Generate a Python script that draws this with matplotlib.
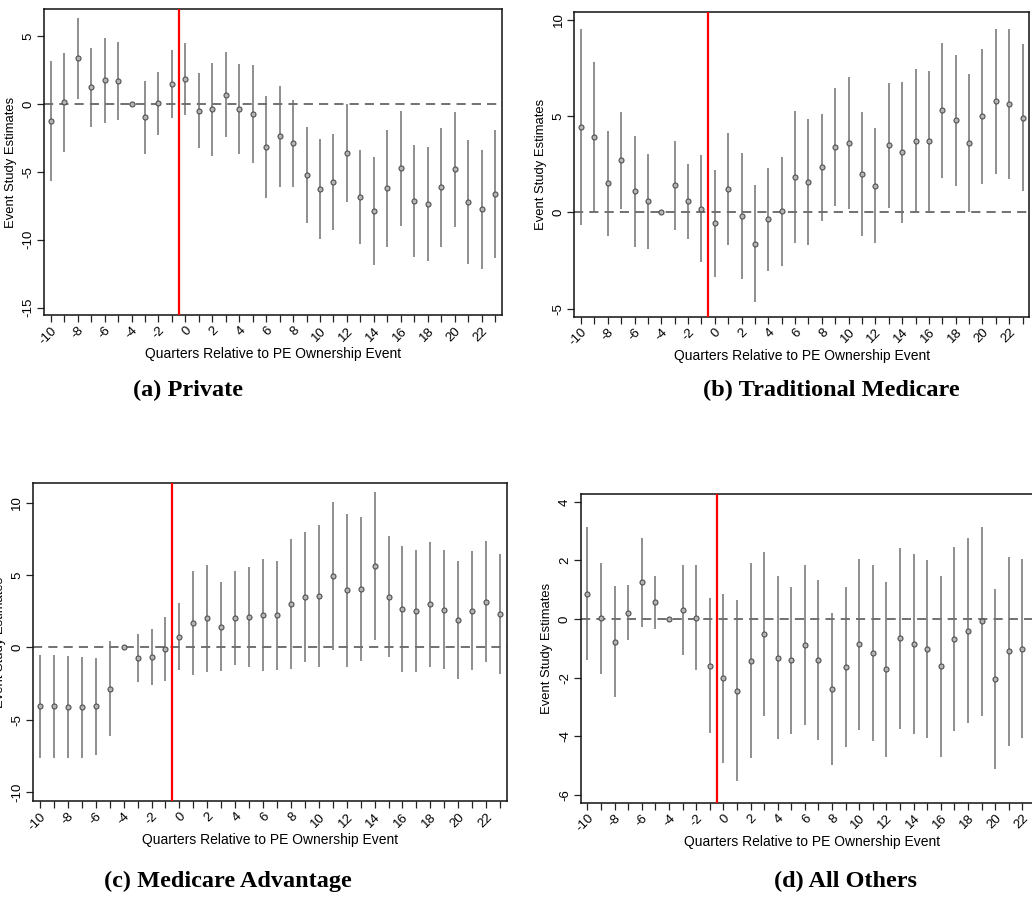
import matplotlib
matplotlib.use("Agg")
import matplotlib.pyplot as plt
from matplotlib.ticker import MultipleLocator

# Event-study estimates with 95% confidence bounds, by payer type
quarters = list(range(-10, 24))
quarters_d = list(range(-10, 23))

est_a = [-1.23, 0.17, 3.37, 1.23, 1.74, 1.70, 0, -0.98, 0.05, 1.50, 1.84, -0.49, -0.39, 0.66,
         -0.37, -0.71, -3.17, -2.38, -2.90, -5.23, -6.29, -5.75, -3.59, -6.86, -7.91, -6.19,
         -4.74, -7.13, -7.37, -6.14, -4.82, -7.20, -7.76, -6.61]
lo_a = [-5.65, -3.51, 0.37, -1.70, -1.40, -1.20, 0, -3.66, -2.26, -1.01, -0.84, -3.22, -3.81,
        -2.46, -3.66, -4.32, -6.93, -6.09, -6.09, -8.80, -9.98, -9.29, -7.25, -10.34, -11.89,
        -10.52, -8.97, -11.28, -11.57, -10.52, -9.04, -11.77, -12.14, -11.33]
hi_a = [3.17, 3.78, 6.36, 4.13, 4.86, 4.55, 0, 1.67, 2.36, 3.98, 4.47, 2.26, 3.05, 3.81, 2.92,
        2.87, 0.59, 1.30, 0.32, -1.67, -2.60, -2.24, 0.0, -3.39, -3.93, -1.89, -0.52, -3.00,
        -3.14, -1.77, -0.61, -2.65, -3.42, -1.94]

est_b = [4.43, 3.91, 1.52, 2.70, 1.11, 0.57, 0, 1.40, 0.57, 0.19, -0.57, 1.21, -0.21, -1.63,
         -0.36, 0.05, 1.83, 1.57, 2.34, 3.39, 3.58, 1.99, 1.38, 3.48, 3.11, 3.70, 3.70, 5.29,
         4.78, 3.58, 4.98, 5.76, 5.62, 4.91]
lo_b = [-0.66, 0.0, -1.23, 0.16, -1.78, -1.90, 0, -0.92, -1.37, -2.58, -3.34, -1.70, -3.44,
        -4.65, -3.04, -2.77, -1.61, -1.70, -0.47, 0.33, 0.16, -1.25, -1.61, 0.24, -0.54, 0.0,
        0.07, 1.80, 1.35, 0.0, 1.49, 2.01, 1.73, 1.09]
hi_b = [9.50, 7.82, 4.24, 5.21, 3.96, 3.04, 0, 3.69, 2.51, 2.96, 2.20, 4.13, 3.08, 1.40, 2.32,
        2.87, 5.26, 4.83, 5.12, 6.45, 7.02, 5.19, 4.36, 6.71, 6.76, 7.44, 7.34, 8.79, 8.18,
        7.15, 8.48, 9.50, 9.50, 8.72]

est_c = [-4.08, -4.08, -4.12, -4.15, -4.08, -2.86, 0, -0.74, -0.69, -0.14, 0.74, 1.68, 2.00,
         1.43, 2.05, 2.10, 2.21, 2.21, 2.97, 3.48, 3.55, 4.93, 3.94, 4.01, 5.65, 3.50, 2.63,
         2.49, 2.97, 2.60, 1.87, 2.53, 3.16, 2.30]
lo_c = [-7.65, -7.62, -7.62, -7.65, -7.44, -6.13, 0, -2.37, -2.63, -2.33, -1.57, -1.89, -1.71,
        -1.66, -1.20, -1.34, -1.64, -1.54, -1.52, -1.01, -1.34, -0.18, -1.34, -0.94, 0.53,
        -0.69, -1.73, -1.73, -1.34, -1.50, -2.21, -1.57, -1.04, -1.87]
hi_c = [-0.51, -0.55, -0.62, -0.69, -0.76, 0.44, 0, 0.90, 1.24, 2.07, 3.09, 5.25, 5.69, 4.54,
        5.30, 5.53, 6.08, 5.99, 7.47, 7.97, 8.43, 10.05, 9.19, 8.99, 10.76, 7.72, 6.98, 6.73,
        7.30, 6.73, 5.97, 6.64, 7.33, 6.45]

est_d = [0.86, 0.02, -0.77, 0.22, 1.25, 0.57, 0, 0.31, 0.05, -1.59, -2.02, -2.44, -1.42, -0.50,
         -1.32, -1.41, -0.89, -1.39, -2.40, -1.65, -0.86, -1.16, -1.72, -0.66, -0.85, -1.02,
         -1.61, -0.67, -0.40, -0.08, -2.06, -1.10, -1.01]
lo_d = [-1.40, -1.86, -2.67, -0.72, -0.28, -0.33, 0, -1.23, -1.74, -3.90, -4.90, -5.53, -4.76,
        -3.30, -4.10, -3.93, -3.61, -4.13, -4.99, -4.38, -3.78, -4.15, -4.70, -3.74, -3.93,
        -4.05, -4.70, -3.81, -3.56, -3.32, -5.13, -4.33, -4.07]
hi_d = [3.13, 1.91, 1.13, 1.15, 2.76, 1.47, 0, 1.83, 1.83, 0.72, 0.86, 0.65, 1.92, 2.30, 1.48,
        1.10, 1.85, 1.33, 0.19, 1.08, 2.06, 1.83, 1.26, 2.44, 2.22, 2.00, 1.48, 2.45, 2.76,
        3.16, 1.01, 2.13, 2.06]

captions = ["(a) Private", "(b) Traditional Medicare", "(c) Medicare Advantage", "(d) All Others"]
y_ticks = [[-15, -10, -5, 0, 5], [-5, 0, 5, 10], [-10, -5, 0, 5, 10], [-6, -4, -2, 0, 2, 4]]
y_limits = [(-15.55, 6.98), (-5.42, 10.39), (-10.62, 11.33), (-6.27, 4.28)]
x_tick_labels = list(range(-10, 23, 2))
event_line = -0.5
y_title = "Event Study Estimates"
x_title = "Quarters Relative to PE Ownership Event"

W, H = 1032, 899
# axes boxes in pixels: left, top, right, bottom
boxes = [(44, 9.3, 501.7, 315), (574.3, 12, 1029.3, 316.7),
         (33, 483.3, 507, 801), (580.7, 493.7, 1042.7, 802.7)]
# caption centres in pixels
caption_pos = [(188, 390), (831, 390), (228, 881), (846, 881)]

plt.rcParams["font.family"] = ["Liberation Sans", "DejaVu Sans"]

fig = plt.figure(figsize=(W / 100, H / 100), dpi=100)

panels = [(quarters, est_a, lo_a, hi_a), (quarters, est_b, lo_b, hi_b),
          (quarters, est_c, lo_c, hi_c), (quarters_d, est_d, lo_d, hi_d)]

for i, (x, est, lo, hi) in enumerate(panels):
    l, t, r, b = boxes[i]
    ax = fig.add_axes([l / W, 1 - b / H, (r - l) / W, (b - t) / H])
    ax.axhline(0, color="#4a4a4a", lw=1.1, ls=(0, (6, 4)), zorder=1)
    ax.vlines(x, lo, hi, color="#707070", lw=1.1, zorder=2)
    ax.plot(x, est, ls="none", marker="o", ms=3.6, mfc="#b4b4b4", mec="#505050",
            mew=0.8, zorder=3)
    ax.axvline(event_line, color="#ff0000", lw=1.6, zorder=4)
    ax.set_xlim(-10.5, 23.5)
    ax.set_ylim(*y_limits[i])
    ax.xaxis.set_minor_locator(MultipleLocator(1))
    ax.set_xticks(x_tick_labels)
    ax.set_xticklabels([str(v) for v in x_tick_labels], rotation=45, ha="right",
                       va="top", rotation_mode="anchor", fontsize=9.5)
    ax.set_yticks(y_ticks[i])
    ax.set_yticklabels([str(v) for v in y_ticks[i]], rotation=90, va="center",
                       fontsize=9.5)
    ax.tick_params(axis="both", which="major", length=5, width=0.9, color="#222222",
                   pad=2)
    ax.tick_params(axis="x", which="minor", length=5, width=0.9, color="#222222")
    for s in ax.spines.values():
        s.set_linewidth(1.1)
        s.set_color("#111111")
    ax.set_ylabel(y_title, fontsize=9.4, labelpad=4)
    ax.set_xlabel(x_title, fontsize=10, labelpad=0)
    fig.text(caption_pos[i][0] / W, 1 - caption_pos[i][1] / H, captions[i],
             family="Liberation Serif", fontweight="bold", fontsize=17.5,
             ha="center", va="center")

fig.savefig("out.png", dpi=100)
